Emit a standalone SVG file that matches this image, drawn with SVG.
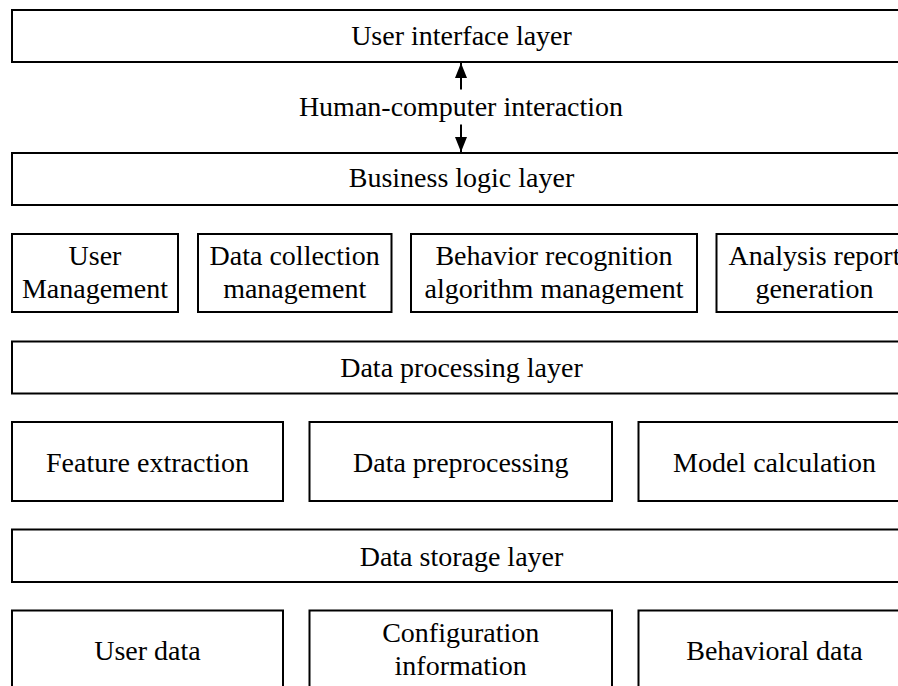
<svg xmlns="http://www.w3.org/2000/svg" width="898" height="686" viewBox="0 0 898 686">
<defs>
<style>
.box{fill:#fff;stroke:#000;stroke-width:2}
.t{font-family:"Liberation Serif","Times New Roman",serif;font-size:28px;fill:#000;text-anchor:middle}
.ln{stroke:#000;stroke-width:2;fill:none}
</style>
<marker id="ah" viewBox="0 0 15 12" refX="15" refY="6" markerWidth="15" markerHeight="12" markerUnits="userSpaceOnUse" orient="auto">
<path d="M0,0 L15,6 L0,12 z" fill="#000"/>
</marker>
</defs>
<rect width="898" height="686" fill="#fff"/>
<g id="ui-layer"><rect class="box" x="12" y="10" width="900" height="52"/><text class="t" x="461.5" y="45">User interface layer</text></g>
<g id="business-layer"><rect class="box" x="12" y="153" width="900" height="52"/><text class="t" x="461.5" y="187">Business logic layer</text></g>
<g id="user-management"><rect class="box" x="12" y="234" width="166" height="78"/><text class="t" x="95" y="264.5">User</text><text class="t" x="95" y="298">Management</text></g>
<g id="data-collection"><rect class="box" x="198" y="234" width="193.5" height="78"/><text class="t" x="294.7" y="264.5">Data collection</text><text class="t" x="294.7" y="298">management</text></g>
<g id="behavior-recognition"><rect class="box" x="411" y="234" width="286" height="78"/><text class="t" x="554" y="264.5">Behavior recognition</text><text class="t" x="554" y="298">algorithm management</text></g>
<g id="analysis-report"><rect class="box" x="716.5" y="234" width="196" height="78"/><text class="t" x="814.5" y="264.5">Analysis report</text><text class="t" x="814.5" y="298">generation</text></g>
<g id="processing-layer"><rect class="box" x="12" y="341.5" width="900" height="52"/><text class="t" x="461.5" y="376.5">Data processing layer</text></g>
<g id="feature-extraction"><rect class="box" x="12" y="422" width="271" height="79"/><text class="t" x="147.5" y="471.5">Feature extraction</text></g>
<g id="data-preprocessing"><rect class="box" x="309.5" y="422" width="302.5" height="79"/><text class="t" x="460.7" y="471.5">Data preprocessing</text></g>
<g id="model-calculation"><rect class="box" x="638.5" y="422" width="272" height="79"/><text class="t" x="774.5" y="471.5">Model calculation</text></g>
<g id="storage-layer"><rect class="box" x="12" y="529.5" width="900" height="52.5"/><text class="t" x="461.5" y="565.5">Data storage layer</text></g>
<g id="user-data"><rect class="box" x="12" y="610.5" width="271" height="90"/><text class="t" x="147.5" y="659.5">User data</text></g>
<g id="configuration-information"><rect class="box" x="309.5" y="610.5" width="302.5" height="90"/><text class="t" x="460.7" y="642">Configuration</text><text class="t" x="460.7" y="675">information</text></g>
<g id="behavioral-data"><rect class="box" x="638.5" y="610.5" width="272" height="90"/><text class="t" x="774.5" y="659.5">Behavioral data</text></g>
<g id="connectors">
<path class="ln" d="M461,89.5 L461,63" marker-end="url(#ah)"/>
<path class="ln" d="M461,124.5 L461,152" marker-end="url(#ah)"/>
<text class="t" x="461" y="115.5">Human-computer interaction</text>
</g>
</svg>
